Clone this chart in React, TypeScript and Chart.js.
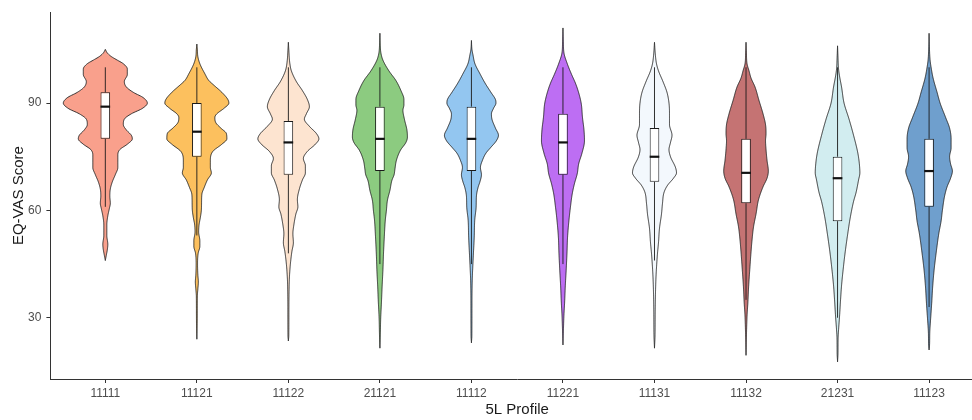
import React, { useEffect, useRef } from 'react';
import { Chart, registerables } from 'chart.js';

Chart.register(...registerables);

// ---------------- data ----------------
const CATEGORIES = ['11111', '11121', '11122', '21121', '11112', '11221', '11131', '11132', '21231', '11123'];
const Q1 = [80, 75, 70, 71, 71, 70, 68, 62, 57, 61];
const MEDIAN = [89, 82, 79, 80, 80, 79, 75, 70.5, 69, 71];
const Q3 = [93, 90, 85, 89, 89, 87, 83, 80, 75, 80];
const WHISKER_LOW = [61, 53, 48, 45, 45, 45, 46, 35, 30, 33];
const WHISKER_HIGH = [100, 100, 100, 100, 100, 100, 100, 100, 100, 100];
const Y_TICKS = [30, 60, 90];
const FILL_COLORS = ['#F9A08C', '#FCC05E', '#FDE4D0', '#8CCB80', '#93C6F0', '#BD6EF3', '#F3F8FD', '#C57373', '#D2EDF0', '#6F9FCD'];

// violin density profiles: [EQ-VAS score, relative density (half width, 91.5 = one category)]
const DENSITY_11111 = [[105, 0], [104, 2], [103, 6], [102, 12], [101, 18], [99.5, 22], [98, 22], [96, 19], [94.5, 21], [93, 28], [91.5, 38], [90, 42], [88.5, 37], [87, 26], [85.5, 19], [84, 18], [82.5, 21], [81, 26], [80, 27], [78.5, 22], [77, 14.5], [75.5, 12.5], [73.5, 12.5], [72, 12.5], [70, 10], [68, 7], [66, 5], [64, 4.5], [62, 5], [60.5, 4], [58.5, 2.5], [56, 1.5], [53, 1.5], [50.5, 2.5], [49, 2], [47.5, 1], [46, 0]];
const DENSITY_11121 = [[106.5, 0], [105, 0.5], [103, 1], [101, 3], [98.2, 8], [96.3, 12], [95, 17], [93, 25], [91, 31], [90, 32], [88.5, 27], [87, 20], [86, 18], [84.5, 19], [83, 24], [81.5, 29.5], [80, 30], [78.5, 25], [76.5, 16], [74, 13.5], [72, 13.5], [70.5, 14.5], [68.5, 10.5], [66.5, 7.5], [64.5, 5], [62, 4.7], [60, 4.5], [58, 3.5], [56, 2.2], [54, 1.8], [51.5, 3], [50, 3], [48, 1.3], [45, 0.7], [42, 1], [40, 1.5], [38, 1], [36, 0.5], [30, 0.4], [24, 0]];
const DENSITY_11122 = [[107, 0], [105, 0.4], [101, 1.5], [99, 3], [96, 8], [93.5, 14], [91, 19], [89, 21], [87, 18], [85.5, 16], [83.5, 21], [81.5, 28], [80, 30.5], [78.5, 27], [76.5, 19], [74.5, 15], [72.5, 17], [70.5, 17], [68.5, 14], [66, 11], [63, 9], [61, 9.5], [59, 7.5], [56, 5.5], [53.5, 4.5], [51, 5], [48.5, 3.5], [45, 2], [41, 1], [38, 0.7], [33, 0.5], [25, 0.4], [23.5, 0]];
const DENSITY_21121 = [[109.5, 0], [106, 0.4], [104, 1], [102, 3], [99, 9], [96.3, 16], [93.5, 21], [91, 24], [89.5, 24], [88, 23], [85.5, 24.5], [82.5, 27], [80.5, 27.5], [79, 26], [76.8, 20.5], [74, 16.5], [71.5, 15], [70, 14.2], [68.4, 12], [65.6, 10], [62.8, 7.5], [60, 6.5], [57.3, 5.4], [52.6, 4.4], [48, 3.6], [43.3, 3], [38.7, 2.2], [34, 1.5], [30, 0.8], [25, 0.4], [21.5, 0]];
const DENSITY_11112 = [[107.5, 0], [105, 0.5], [103.5, 1.5], [101, 3.5], [98.2, 8.5], [95.4, 14], [93, 19.5], [91, 24], [90, 24.5], [88.5, 22], [87, 20], [85.5, 20.5], [83, 24], [81, 27], [79.5, 25], [77.5, 19], [76, 14.5], [74, 11], [72, 9], [70, 10], [68, 8.5], [66.5, 6.7], [64, 5], [61, 4.7], [57.3, 3.3], [52.6, 2.8], [48, 2], [44, 1.3], [40.5, 0.8], [35, 0.5], [25, 0.4], [23, 0]];
const DENSITY_11221 = [[111, 0], [107, 0.4], [104, 1], [101, 4.3], [98.2, 8.3], [95.4, 12.7], [92.6, 16], [89.8, 18.3], [86, 19.5], [82.5, 21], [79.5, 21.5], [76, 19], [73, 15.7], [70.3, 14.3], [67.5, 11.5], [64.7, 9.3], [61, 7.5], [57.3, 6], [52.6, 4.6], [48, 4], [43.3, 3.2], [38.7, 2.3], [34, 1.6], [31, 1], [27, 0.5], [22.4, 0]];
const DENSITY_11131 = [[107, 0], [104, 0.7], [101, 2], [99, 4], [96, 8.5], [93, 12.5], [90, 14.5], [87, 15], [84, 15], [81, 17.5], [79, 16], [77, 14.5], [75, 16], [72, 21], [70.5, 22], [69, 19], [67, 13], [65, 9.5], [62, 8], [59, 7], [55, 5], [51, 4], [48, 3], [44, 2], [40, 1.3], [32, 0.7], [25, 0.5], [21.5, 0]];
const DENSITY_11132 = [[107, 0], [104, 0.4], [101, 1], [99, 3], [97, 5], [94.5, 9], [90.7, 13], [87, 17], [84, 19.5], [81.5, 20], [79.5, 19.5], [77, 20], [74, 21], [71, 22.3], [69, 21], [66.6, 17], [63, 12.5], [59, 10], [55.4, 7.5], [51.7, 6], [48, 4.9], [43.3, 3.7], [38.7, 2.6], [34, 1.8], [31, 1.1], [26, 0.5], [19.5, 0]];
const DENSITY_21231 = [[106, 0], [103, 0.4], [99.5, 1], [97.5, 2], [94.5, 4], [90, 6.5], [85.5, 11.5], [81, 16], [76, 20.3], [73, 21.8], [70.5, 22.3], [68.5, 21], [65, 18.5], [62.5, 16], [58, 12.7], [53.5, 10.2], [48.5, 7.7], [44, 5.8], [39, 4], [35, 3], [30, 1.9], [27, 1.1], [24, 0.5], [20, 0.4], [17.7, 0]];
const DENSITY_11123 = [[109.5, 0], [105, 0.4], [102, 1], [100, 2], [97, 4], [93, 8], [90, 11], [86, 16.5], [83, 20.5], [80, 22], [77.5, 22], [75, 20.5], [73, 21.5], [71, 23.3], [69, 21.5], [66.6, 18], [64, 15.5], [60, 13.3], [57, 12], [53.5, 9.7], [48, 7], [43.3, 5], [38.7, 3.6], [34, 2.6], [29.5, 1.5], [26, 0.7], [22, 0.4], [21, 0]];
const DENSITIES = [DENSITY_11111, DENSITY_11121, DENSITY_11122, DENSITY_21121, DENSITY_11112, DENSITY_11221, DENSITY_11131, DENSITY_11132, DENSITY_21231, DENSITY_11123];
const DENSITY_PER_UNIT = 91.5;

// monotone cubic (Fritsch-Carlson) for smooth violin outlines
function monotone(xs: number[], ys: number[]) {
  const n = xs.length;
  const d: number[] = [];
  const m: number[] = new Array(n).fill(0);
  for (let i = 0; i < n - 1; i++) d[i] = (ys[i + 1] - ys[i]) / (xs[i + 1] - xs[i]);
  m[0] = d[0];
  m[n - 1] = d[n - 2];
  for (let i = 1; i < n - 1; i++) m[i] = d[i - 1] * d[i] <= 0 ? 0 : (d[i - 1] + d[i]) / 2;
  for (let i = 0; i < n - 1; i++) {
    if (d[i] === 0) { m[i] = 0; m[i + 1] = 0; continue; }
    const a = m[i] / d[i], b = m[i + 1] / d[i];
    const s = a * a + b * b;
    if (s > 9) { const t = 3 / Math.sqrt(s); m[i] = t * a * d[i]; m[i + 1] = t * b * d[i]; }
  }
  return (x: number) => {
    let i = 0;
    while (i < n - 2 && x > xs[i + 1]) i++;
    const h = xs[i + 1] - xs[i];
    const t = (x - xs[i]) / h;
    const t2 = t * t, t3 = t2 * t;
    return (2 * t3 - 3 * t2 + 1) * ys[i] + (t3 - 2 * t2 + t) * h * m[i] + (-2 * t3 + 3 * t2) * ys[i + 1] + (t3 - t2) * h * m[i + 1];
  };
}

const violinPlugin = {
  id: 'violins',
  beforeDatasetsDraw(chart: any) {
    const { ctx, scales } = chart;
    const x = scales.x, y = scales.y;
    ctx.save();
    DENSITIES.forEach((profile, i) => {
      const pts = [...profile].sort((a, b) => a[0] - b[0]);
      const f = monotone(pts.map((p) => p[0]), pts.map((p) => p[1]));
      const vmin = pts[0][0], vmax = pts[pts.length - 1][0];
      const samples: number[] = [];
      for (let v = vmin; v < vmax; v += 0.2) samples.push(v);
      samples.push(vmax);
      const cx = x.getPixelForValue(i + 1);
      const hw = (v: number) => x.getPixelForValue(i + 1 + Math.max(0, f(v)) / DENSITY_PER_UNIT) - cx;
      ctx.beginPath();
      samples.forEach((v, k) => {
        const X = cx + hw(v), Y = y.getPixelForValue(v);
        if (k === 0) ctx.moveTo(X, Y); else ctx.lineTo(X, Y);
      });
      for (let k = samples.length - 1; k >= 0; k--) {
        const v = samples[k];
        ctx.lineTo(cx - hw(v), y.getPixelForValue(v));
      }
      ctx.closePath();
      ctx.fillStyle = FILL_COLORS[i];
      ctx.fill();
      ctx.strokeStyle = '#222';
      ctx.lineWidth = 0.9;
      ctx.lineJoin = 'round';
      ctx.stroke();

      ctx.beginPath();
      ctx.moveTo(cx, y.getPixelForValue(Q3[i]));
      ctx.lineTo(cx, y.getPixelForValue(WHISKER_HIGH[i]));
      ctx.moveTo(cx, y.getPixelForValue(Q1[i]));
      ctx.lineTo(cx, y.getPixelForValue(WHISKER_LOW[i]));
      ctx.strokeStyle = '#1a1a1a';
      ctx.lineWidth = 0.9;
      ctx.stroke();
    });
    ctx.restore();
  },
  afterDatasetsDraw(chart: any) {
    const { ctx, scales } = chart;
    const y = scales.y;
    const meta = chart.getDatasetMeta(0);
    ctx.save();
    ctx.strokeStyle = '#111';
    ctx.lineWidth = 2.2;
    meta.data.forEach((el: any, i: number) => {
      const yy = y.getPixelForValue(MEDIAN[i]);
      ctx.beginPath();
      ctx.moveTo(el.x - el.width / 2, yy);
      ctx.lineTo(el.x + el.width / 2, yy);
      ctx.stroke();
    });
    ctx.restore();
  },
};

export default function App() {
  const ref = useRef<HTMLCanvasElement | null>(null);
  useEffect(() => {
    if (!ref.current) return;
    Chart.defaults.font.family = '"Liberation Sans", Arial, sans-serif';
    const axisGrid = { drawOnChartArea: false, drawTicks: true, tickLength: 4, color: '#333', tickWidth: 1, offset: false };
    const axisBorder = { display: true, color: '#333', width: 1 };
    const chart = new Chart(ref.current, {
      type: 'bar',
      data: {
        datasets: [
          {
            data: CATEGORIES.map((_, i) => ({ x: i + 1, y: [Q1[i], Q3[i]] })) as any,
            backgroundColor: '#ffffff',
            borderColor: '#1a1a1a',
            borderWidth: 1,
            borderSkipped: false,
            barPercentage: 0.105,
            categoryPercentage: 1,
          },
        ],
      },
      options: {
        animation: false,
        responsive: false,
        devicePixelRatio: 1,
        layout: { padding: { top: 11.7, left: 0, right: 0, bottom: 0 } },
        plugins: { legend: { display: false }, tooltip: { enabled: false } },
        scales: {
          x: {
            type: 'linear',
            offset: false,
            min: 0.4,
            max: 10.6,
            afterBuildTicks: (s: any) => { s.ticks = CATEGORIES.map((_, i) => ({ value: i + 1 })); },
            afterFit: (s: any) => { s.height = 41; },
            ticks: {
              callback: (v: any) => CATEGORIES[Math.round(Number(v)) - 1] ?? '',
              color: '#4d4d4d',
              font: { size: 12 },
              padding: 3,
              maxRotation: 0,
              autoSkip: false,
            },
            grid: axisGrid,
            border: axisBorder,
            title: { display: true, text: '5L Profile', font: { size: 15 }, color: '#1a1a1a', padding: { top: 0, bottom: 1 } },
          },
          y: {
            type: 'linear',
            min: 12.88,
            max: 115.4,
            afterBuildTicks: (s: any) => { s.ticks = Y_TICKS.map((v) => ({ value: v })); },
            afterFit: (s: any) => { s.width = 50.4; },
            ticks: { color: '#4d4d4d', font: { size: 12 }, padding: 5 },
            grid: axisGrid,
            border: axisBorder,
            title: { display: true, text: 'EQ-VAS Score', font: { size: 15 }, color: '#1a1a1a', padding: { top: 10, bottom: 0 } },
          },
        },
      } as any,
      plugins: [violinPlugin],
    });
    return () => chart.destroy();
  }, []);
  return (
    <div style={{ position: 'fixed', left: 0, top: 0, width: 972, height: 420, overflow: 'hidden', background: '#fff' }}>
      <canvas ref={ref} width={984} height={420} style={{ display: 'block', width: 984, height: 420 }} />
    </div>
  );
}
